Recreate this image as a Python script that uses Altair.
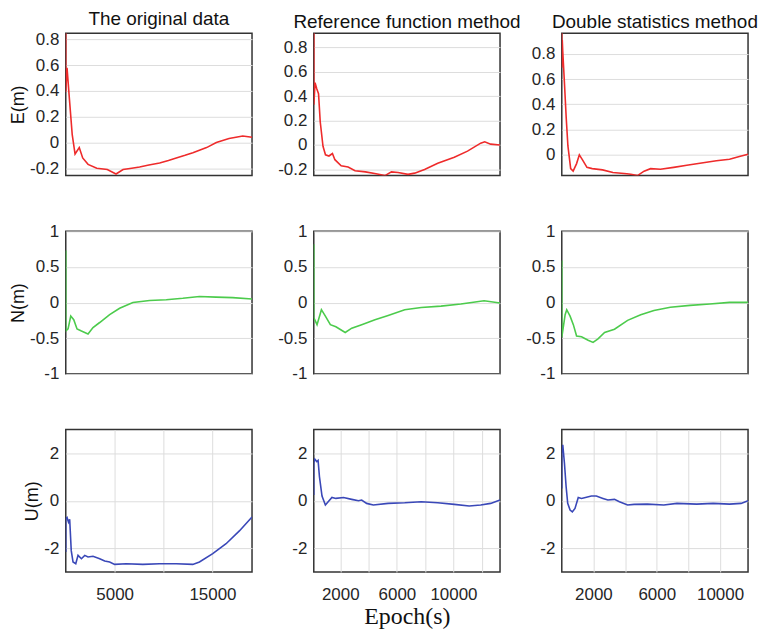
import altair as alt
import pandas as pd

# ---- column titles / axis titles ----
col_titles = ["The original data", "Reference function method", "Double statistics method"]
row_titles = ["E(m)", "N(m)", "U(m)"]
x_title = "Epoch(s)"

# ---- x domains per column (epoch, s) ----
x_dom = [[0, 19050], [126, 13290], [0, 11770]]
x_grid = [[5000, 10000, 15000],
          [2000, 4000, 6000, 8000, 10000, 12000],
          [2000, 4000, 6000, 8000, 10000]]
x_labels = [[5000, 15000], [2000, 6000, 10000], [2000, 6000, 10000]]

# ---- y domains / ticks ----
y_dom = [
    [[-0.257, 0.848], [-0.25, 0.915], [-0.165, 0.965]],
    [[-1, 1], [-1, 1], [-1, 1]],
    [[-3, 3], [-3, 3], [-3, 3]],
]
y_ticks = [
    [[-0.2, 0, 0.2, 0.4, 0.6, 0.8], [-0.2, 0, 0.2, 0.4, 0.6, 0.8], [0, 0.2, 0.4, 0.6, 0.8]],
    [[-1, -0.5, 0, 0.5, 1]] * 3,
    [[-2, 0, 2]] * 3,
]

# ---- E component ----
e_orig_x = [0, 0, 130, 380, 660, 950, 1380, 1730, 2280, 3170, 4250, 5140, 5860, 6750, 7550,
            8500, 9600, 10500, 11300, 12200, 13000, 14400, 15400, 16700, 18100, 19050]
e_orig_y = [0.9, 0.39, 0.58, 0.33, 0.06, -0.09, -0.04, -0.12, -0.17, -0.20, -0.21, -0.245, -0.21,
            -0.20, -0.19, -0.175, -0.16, -0.14, -0.12, -0.10, -0.08, -0.04, 0.0, 0.03, 0.05, 0.04]

e_ref_x = [130, 130, 217, 336, 462, 582, 778, 953, 1198, 1444, 1619, 2061, 2552, 3042, 3778,
           4522, 5152, 5615, 6085, 6786, 7255, 7956, 8888, 10059, 10992, 11924, 12206, 12626, 13290]
e_ref_y = [0.95, 0.33, 0.51, 0.46, 0.42, 0.19, -0.01, -0.08, -0.09, -0.07, -0.12, -0.17, -0.18,
           -0.21, -0.22, -0.235, -0.25, -0.22, -0.225, -0.24, -0.23, -0.20, -0.15, -0.10, -0.05,
           0.015, 0.026, 0.007, 0.0]

e_dbl_x = [0, 0, 30, 62, 168, 281, 387, 561, 717, 935, 1110, 1309, 1590, 1920, 2575, 3230, 4109,
           4364, 4782, 5200, 5611, 6235, 7070, 7900, 8729, 9770, 10600, 11223, 11770]
e_dbl_y = [1.0, 0.69, 0.91, 0.82, 0.57, 0.29, 0.07, -0.11, -0.13, -0.07, 0.0, -0.04, -0.10, -0.11,
           -0.12, -0.14, -0.15, -0.155, -0.165, -0.13, -0.11, -0.115, -0.10, -0.083, -0.067, -0.048,
           -0.035, -0.014, 0.005]

# ---- N component ----
n_orig_x = [0, 0, 235, 510, 816, 1153, 1602, 2276, 2786, 3469, 4490, 5510, 6867, 8571, 10276,
            11970, 13673, 15378, 17071, 19050]
n_orig_y = [0.73, -0.40, -0.37, -0.19, -0.24, -0.37, -0.40, -0.44, -0.35, -0.28, -0.17, -0.08,
            0.0, 0.03, 0.04, 0.06, 0.086, 0.076, 0.07, 0.05]

n_ref_x = [126, 126, 357, 666, 946, 1297, 1689, 2348, 2811, 3512, 4451, 5384, 6554, 7718, 9120,
           10522, 12162, 13290]
n_ref_y = [0.82, -0.21, -0.31, -0.10, -0.19, -0.31, -0.34, -0.42, -0.36, -0.31, -0.24, -0.18,
           -0.10, -0.07, -0.05, -0.02, 0.026, -0.007]

n_dbl_x = [0, 0, 212, 312, 524, 730, 935, 1247, 1665, 1977, 2288, 2706, 3330, 4159, 4988, 5824,
           6859, 8106, 9353, 10600, 11770]
n_dbl_y = [0.59, -0.49, -0.17, -0.10, -0.19, -0.31, -0.47, -0.48, -0.53, -0.56, -0.51, -0.42,
           -0.375, -0.25, -0.17, -0.11, -0.066, -0.04, -0.02, 0.003, 0.003]

# ---- U component ----
u_orig_x = [0, 0, 130, 280, 400, 560, 745, 1020, 1255, 1602, 1939, 2276, 2786, 3469, 3980, 4490,
            5000, 6194, 7888, 9592, 11296, 12990, 13673, 15031, 16398, 17755, 19050]
u_orig_y = [-2.16, -0.75, -0.7, -0.9, -0.78, -2.1, -2.58, -2.65, -2.30, -2.44, -2.30, -2.37, -2.34,
            -2.44, -2.54, -2.58, -2.68, -2.65, -2.68, -2.65, -2.65, -2.68, -2.58, -2.23, -1.81,
            -1.27, -0.68]

u_ref_x = [126, 126, 200, 336, 430, 526, 708, 946, 1129, 1409, 1689, 2229, 2811, 3281, 3512, 3862,
           4332, 5384, 6554, 7718, 8888, 10059, 11110, 11924, 12626, 13290]
u_ref_y = [0.24, 1.6, 1.75, 1.65, 1.7, 1.02, 0.2, -0.18, -0.05, 0.14, 0.10, 0.14, 0.06, 0.0, 0.03,
           -0.11, -0.18, -0.11, -0.085, -0.04, -0.085, -0.15, -0.22, -0.18, -0.11, 0.03]

u_dbl_x = [0, 0, 62, 168, 274, 374, 524, 667, 835, 1041, 1247, 1496, 1871, 2182, 2600, 2912, 3330,
           3641, 4159, 4576, 5406, 6447, 7276, 8523, 9564, 10600, 11329, 11770]
u_dbl_y = [0.52, 2.08, 2.36, 1.58, 0.59, -0.11, -0.39, -0.47, -0.32, 0.14, 0.10, 0.14, 0.2, 0.2,
           0.10, 0.03, 0.06, -0.04, -0.18, -0.15, -0.14, -0.18, -0.11, -0.14, -0.11, -0.14, -0.11, 0.0]

series = [
    [(e_orig_x, e_orig_y), (e_ref_x, e_ref_y), (e_dbl_x, e_dbl_y)],
    [(n_orig_x, n_orig_y), (n_ref_x, n_ref_y), (n_dbl_x, n_dbl_y)],
    [(u_orig_x, u_orig_y), (u_ref_x, u_ref_y), (u_dbl_x, u_dbl_y)],
]
row_colors = ["#ee2b2b", "#4ccb4c", "#3a48b8"]

FONT = "Liberation Sans"
LABEL_EXPR = "replace(format(datum.value, '~g'), '\u2212', '-')"


def panel(r, c):
    xs, ys = series[r][c]
    df = pd.DataFrame({"epoch": xs, "value": ys, "i": list(range(len(xs)))})

    y_kw = dict(values=y_ticks[r][c], grid=True, ticks=False, domain=False,
                labelExpr=LABEL_EXPR, labelPadding=7)
    if c == 0:
        y_enc = alt.Y("value:Q", title=row_titles[r],
                      scale=alt.Scale(domain=y_dom[r][c], nice=False, zero=False),
                      axis=alt.Axis(**y_kw))
    else:
        y_enc = alt.Y("value:Q", title=None,
                      scale=alt.Scale(domain=y_dom[r][c], nice=False, zero=False),
                      axis=alt.Axis(**y_kw))

    xscale = alt.Scale(domain=x_dom[c], nice=False, zero=False)
    if r < 2:
        x_enc = alt.X("epoch:Q", scale=xscale, axis=None)
    else:
        expr = ("indexof(" + str(x_labels[c]) + ", datum.value) >= 0 ? "
                "format(datum.value, '~g') : ''")
        ax = alt.Axis(values=x_grid[c], grid=True, ticks=False, domain=False,
                      labelExpr=expr, labelPadding=15, labelFlush=False)
        if c == 1:
            x_enc = alt.X("epoch:Q", title=x_title, scale=xscale, axis=ax)
        else:
            x_enc = alt.X("epoch:Q", title=None, scale=xscale, axis=ax)

    ch = alt.Chart(df).mark_line(color=row_colors[r], strokeWidth=1.6, clip=True).encode(
        x=x_enc, y=y_enc, order=alt.Order("i:Q")
    )
    props = dict(width=187, height=143)
    if r == 0:
        props["title"] = alt.TitleParams(
            text=col_titles[c], frame="group", baseline="alphabetic", offset=-14,
            fontSize=19, font=FONT, fontWeight="normal", color="#111111")
    return ch.properties(**props)


charts = [panel(r, c) for r in range(3) for c in range(3)]

chart = alt.concat(*charts, columns=3, spacing={"row": 56, "column": 62}, bounds="flush").properties(
    padding=0
).configure_view(
    stroke="#333333", strokeWidth=1.5
).configure_axis(
    labelFont=FONT, labelFontSize=17, labelColor="#262626",
    gridColor="#dddddd", gridWidth=1,
    titleFont=FONT, titleFontSize=18, titleFontWeight="normal", titleColor="#111111",
    titlePadding=2
).configure_axisX(
    titleFont="Liberation Serif", titleFontSize=24, titlePadding=2
)

chart.save("out.html", embed_options={"renderer": "svg", "actions": False})
